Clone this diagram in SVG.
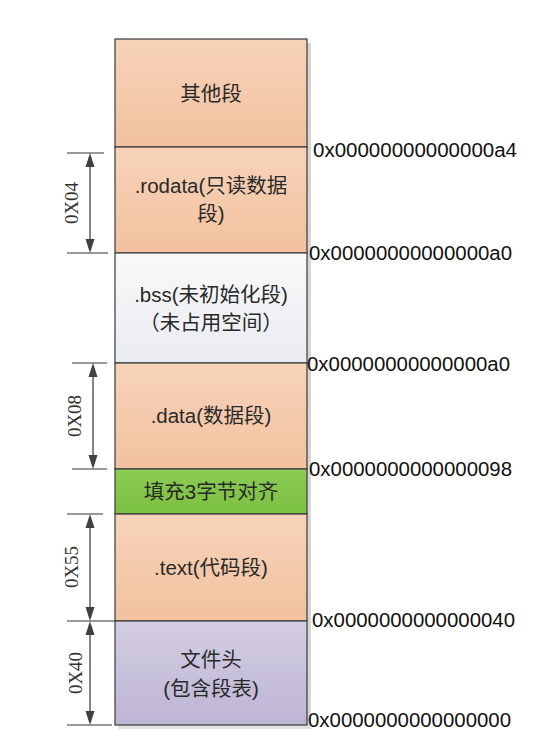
<svg xmlns="http://www.w3.org/2000/svg" width="548" height="740" viewBox="0 0 548 740">
<style>
.cell{stroke:#3a3a3a;stroke-width:1.2}
.lbl{font-family:"Liberation Sans","Noto Sans CJK SC",sans-serif;font-size:20.5px;fill:#2a2a2a;text-anchor:middle}
.addr{font-family:"Liberation Sans","Noto Sans CJK SC",sans-serif;font-size:19.5px;fill:#111}
.dim{font-family:"Liberation Serif",serif;font-size:19px;fill:#333;text-anchor:middle;dominant-baseline:central}
.ext{stroke:#333;stroke-width:1;fill:none}
.dl{stroke:#333;stroke-width:1.2;fill:none}
.ah{fill:#404040}
</style>
<defs>
<linearGradient id="gOr" x1="0" y1="0" x2="0" y2="1"><stop offset="0" stop-color="#F7D3BA"/><stop offset="1" stop-color="#F2C19E"/></linearGradient>
<linearGradient id="gWh" x1="0" y1="0" x2="0" y2="1"><stop offset="0" stop-color="#F9F9FA"/><stop offset="1" stop-color="#E9ECF0"/></linearGradient>
<linearGradient id="gGr" x1="0" y1="0" x2="0" y2="1"><stop offset="0" stop-color="#8CCB55"/><stop offset="1" stop-color="#7BC041"/></linearGradient>
<linearGradient id="gPu" x1="0" y1="0" x2="0" y2="1"><stop offset="0" stop-color="#D3CDE3"/><stop offset="1" stop-color="#BDB5D3"/></linearGradient>
</defs>
<rect x="0" y="0" width="548" height="740" fill="#fff"/>
<!-- shadow -->
<rect x="307" y="43" width="4" height="686" fill="#d6d6d8"/>
<rect x="118" y="725" width="193" height="4" fill="#e2e2e4"/>

<g id="other"><rect class="cell" x="115" y="39" width="192" height="108" fill="url(#gOr)"/><text class="lbl" x="211" y="101">其他段</text></g>
<g id="rodata"><rect class="cell" x="115" y="147" width="192" height="106" fill="url(#gOr)"/><text class="lbl" x="211" y="193">.rodata(只读数据</text><text class="lbl" x="211" y="221">段)</text></g>
<g id="bss"><rect class="cell" x="115" y="253" width="192" height="110" fill="url(#gWh)"/><text class="lbl" x="211" y="302">.bss(未初始化段)</text><text class="lbl" x="211" y="330">（未占用空间）</text></g>
<g id="data"><rect class="cell" x="115" y="363" width="192" height="106" fill="url(#gOr)"/><text class="lbl" x="211" y="423">.data(数据段)</text></g>
<g id="pad"><rect class="cell" x="115" y="469" width="192" height="45" fill="url(#gGr)"/><text class="lbl" x="211" y="499">填充3字节对齐</text></g>
<g id="text"><rect class="cell" x="115" y="514" width="192" height="107" fill="url(#gOr)"/><text class="lbl" x="211" y="575">.text(代码段)</text></g>
<g id="header"><rect class="cell" x="115" y="621" width="192" height="104" fill="url(#gPu)"/><text class="lbl" x="211" y="667">文件头</text><text class="lbl" x="211" y="696">(包含段表)</text></g>

<g id="addresses">
<text class="addr" x="313" y="157" textLength="204" lengthAdjust="spacingAndGlyphs">0x00000000000000a4</text>
<text class="addr" x="309" y="260" textLength="203" lengthAdjust="spacingAndGlyphs">0x00000000000000a0</text>
<text class="addr" x="307" y="371" textLength="203" lengthAdjust="spacingAndGlyphs">0x00000000000000a0</text>
<text class="addr" x="309" y="476" textLength="203" lengthAdjust="spacingAndGlyphs">0x0000000000000098</text>
<text class="addr" x="312" y="627" textLength="203" lengthAdjust="spacingAndGlyphs">0x0000000000000040</text>
<text class="addr" x="308" y="727" textLength="203" lengthAdjust="spacingAndGlyphs">0x0000000000000000</text>
</g>

<g id="connectors">
<!-- 0X04 -->
<line class="ext" x1="67" y1="153" x2="104" y2="153"/>
<line class="ext" x1="67" y1="253" x2="108" y2="253"/>
<line class="dl" x1="90" y1="160" x2="90" y2="246"/>
<polygon class="ah" points="90,153 85.5,167 94.5,167"/>
<polygon class="ah" points="90,253 85.5,239 94.5,239"/>
<!-- 0X08 -->
<line class="ext" x1="72" y1="363" x2="107" y2="363"/>
<line class="ext" x1="72" y1="469" x2="107" y2="469"/>
<line class="dl" x1="93" y1="370" x2="93" y2="462"/>
<polygon class="ah" points="93,363 88.5,377 97.5,377"/>
<polygon class="ah" points="93,469 88.5,455 97.5,455"/>
<!-- 0X55 -->
<line class="ext" x1="67" y1="514" x2="103" y2="514"/>
<line class="ext" x1="67" y1="621" x2="115" y2="621"/>
<line class="dl" x1="90" y1="521" x2="90" y2="614"/>
<polygon class="ah" points="90,514 85.5,528 94.5,528"/>
<polygon class="ah" points="90,621 85.5,607 94.5,607"/>
<!-- 0X40 -->
<line class="ext" x1="67" y1="725" x2="112" y2="725"/>
<line class="dl" x1="90" y1="628" x2="90" y2="718"/>
<polygon class="ah" points="90,621 85.5,635 94.5,635"/>
<polygon class="ah" points="90,725 85.5,711 94.5,711"/>
</g>

<g id="dim-labels">
<text class="dim" transform="translate(71,203) rotate(-90)">0X04</text>
<text class="dim" transform="translate(74,416) rotate(-90)">0X08</text>
<text class="dim" transform="translate(71,567) rotate(-90)">0X55</text>
<text class="dim" transform="translate(75,673) rotate(-90)">0X40</text>
</g>
</svg>
